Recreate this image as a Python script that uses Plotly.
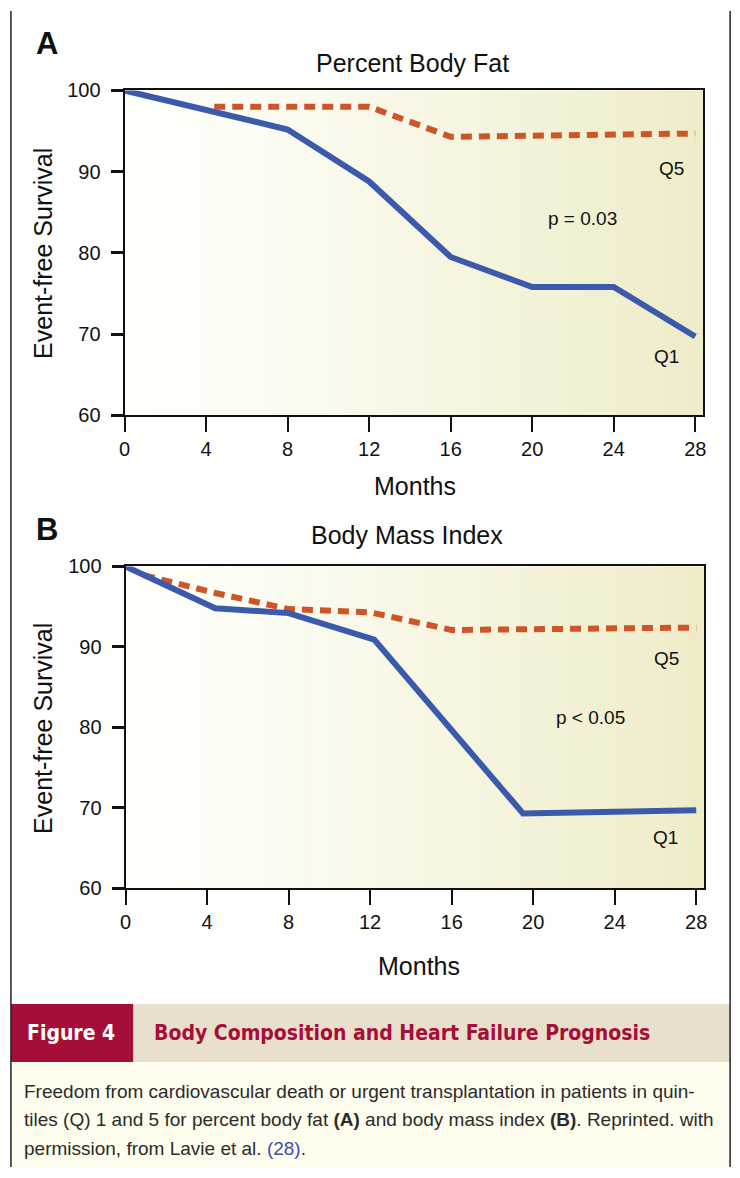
import plotly.graph_objects as go

# ---------------- data ----------------
months_ticks = [0, 4, 8, 12, 16, 20, 24, 28]
y_ticks = [60, 70, 80, 90, 100]

a_q1_x = [0, 8, 12, 16, 20, 24, 28]
a_q1_y = [100, 95.2, 88.8, 79.5, 75.8, 75.8, 69.7]
a_q5_x = [4.4, 12, 16, 28]
a_q5_y = [98.0, 98.0, 94.3, 94.7]

b_q1_x = [0, 4.4, 8, 12.2, 19.5, 28]
b_q1_y = [100, 94.8, 94.2, 90.9, 69.3, 69.7]
b_q5_x = [0.9, 4.4, 8, 12, 16, 28]
b_q5_y = [98.9, 96.7, 94.7, 94.3, 92.1, 92.4]

W, H = 740, 1178
BLUE = "#3b5aab"
ORANGE = "#cf5428"
FONT = "Liberation Sans, Arial, Helvetica, sans-serif"
NARROW = "DejaVu Sans Condensed, Liberation Sans Narrow, sans-serif"


def px(x):
    return x / W


def py(y):
    return 1 - y / H


fig = go.Figure()

# traces
fig.add_trace(go.Scatter(x=a_q5_x, y=a_q5_y, mode="lines", xaxis="x", yaxis="y",
                         line=dict(color=ORANGE, width=6, dash="11px,7px"), showlegend=False))
fig.add_trace(go.Scatter(x=a_q1_x, y=a_q1_y, mode="lines", xaxis="x", yaxis="y",
                         line=dict(color=BLUE, width=6), showlegend=False))
fig.add_trace(go.Scatter(x=b_q5_x, y=b_q5_y, mode="lines", xaxis="x2", yaxis="y2",
                         line=dict(color=ORANGE, width=6, dash="11px,7px"), showlegend=False))
fig.add_trace(go.Scatter(x=b_q1_x, y=b_q1_y, mode="lines", xaxis="x2", yaxis="y2",
                         line=dict(color=BLUE, width=6), showlegend=False))

common_x = dict(range=[0, 28.4], tickvals=months_ticks, ticks="outside", ticklen=15, tickwidth=2,
                tickcolor="#111", showline=True, linewidth=2, linecolor="#111", mirror=True,
                showgrid=False, zeroline=False, tickfont=dict(family=FONT, size=20, color="#111"),
                fixedrange=True)
common_y = dict(range=[60, 100], tickvals=y_ticks, ticks="outside", ticklen=12, tickwidth=2.5,
                tickcolor="#111", showline=True, linewidth=2, linecolor="#111", mirror=True,
                showgrid=False, zeroline=False, tickfont=dict(family=FONT, size=20, color="#111"),
                ticklabelstandoff=6, fixedrange=True)

fig.update_layout(
    width=W, height=H, margin=dict(l=0, r=0, t=0, b=0),
    paper_bgcolor="white", plot_bgcolor="rgba(0,0,0,0)",
    xaxis=dict(domain=[px(120), px(706)], anchor="y", **common_x),
    yaxis=dict(domain=[py(412), py(81)], anchor="x", **common_y),
    xaxis2=dict(domain=[px(121), px(707)], anchor="y2", **common_x),
    yaxis2=dict(domain=[py(894), py(566)], anchor="x2", **common_y),
)

shapes = []
# gradient backgrounds of the plot areas
N = 60
c0 = (255, 255, 252)
c1 = (238, 236, 199)
for ax in [("x", "y"), ("x2", "y2")]:
    for i in range(N):
        t = (i + 0.5) / N
        f = t ** 1.2
        col = "rgb(%d,%d,%d)" % tuple(round(c0[k] + (c1[k] - c0[k]) * f) for k in range(3))
        shapes.append(dict(type="rect", xref=ax[0] + " domain", yref=ax[1] + " domain",
                           x0=i / N, x1=(i + 1) / N + 0.002, y0=0, y1=1,
                           fillcolor=col, line=dict(width=0), layer="below"))

# caption blocks
shapes.append(dict(type="rect", xref="paper", yref="paper", x0=px(5), x1=px(129),
                   y0=py(1071), y1=py(1012), fillcolor="#a50e38", line=dict(width=0)))
shapes.append(dict(type="rect", xref="paper", yref="paper", x0=px(129), x1=px(733),
                   y0=py(1071), y1=py(1012), fillcolor="#e8e0cc", line=dict(width=0)))
shapes.append(dict(type="rect", xref="paper", yref="paper", x0=px(5), x1=px(733),
                   y0=0, y1=py(1071), fillcolor="#fffdee", line=dict(width=0)))
# outer border lines
for xx in [5, 733]:
    shapes.append(dict(type="line", xref="paper", yref="paper", x0=px(xx), x1=px(xx),
                       y0=0, y1=1, line=dict(color="#222", width=1.5)))
fig.update_layout(shapes=shapes)

ann = []


def ptext(text, x, y, size, bold=False, color="#111", xanchor="center", family=FONT, angle=0):
    ann.append(dict(text=("<b>%s</b>" % text) if bold else text, x=px(x), y=py(y), xref="paper",
                    yref="paper", showarrow=False, xanchor=xanchor, yanchor="middle",
                    textangle=angle, font=dict(family=family, size=size, color=color)))


# panel A
ptext("A", 42, 33, 31, bold=True)
ptext("Percent Body Fat", 412, 53, 25)
ptext("Months", 414, 484, 25)
ptext("Event-free Survival", 38, 247, 25, angle=-90)
# panel B
ptext("B", 42, 528, 31, bold=True)
ptext("Body Mass Index", 406, 534, 25)
ptext("Months", 418, 973, 25)
ptext("Event-free Survival", 38, 731, 25, angle=-90)


def dtext(text, x, y, xr, yr):
    ann.append(dict(text=text, x=x, y=y, xref=xr, yref=yr, showarrow=False,
                    xanchor="center", yanchor="middle", font=dict(family=FONT, size=19, color="#111")))


dtext("Q5", 26.85, 90.4, "x", "y")
dtext("p = 0.03", 22.45, 84.2, "x", "y")
dtext("Q1", 26.6, 67.3, "x", "y")
dtext("Q5", 26.55, 88.5, "x2", "y2")
dtext("p &lt; 0.05", 22.8, 81.2, "x2", "y2")
dtext("Q1", 26.5, 66.3, "x2", "y2")

# caption
ptext("Figure 4", 66, 1041, 21, bold=True, color="white", family=NARROW)
ptext("Body Composition and Heart Failure Prognosis", 148, 1041, 21, bold=True,
      color="#a50e38", xanchor="left", family=NARROW)
BODY = "#2b2b2b"
lines = [
    "Freedom from cardiovascular death or urgent transplantation in patients in quin-",
    "tiles (Q) 1 and 5 for percent body fat <b>(A)</b> and body mass index <b>(B)</b>. Reprinted. with",
    "permission, from Lavie et al. <span style='color:#3a4fa6'>(28)</span>.",
]
for i, ln in enumerate(lines):
    ptext(ln, 16, 1101 + i * 29, 19, color=BODY, xanchor="left", family=FONT)

fig.update_layout(annotations=ann)
fig.write_html("out.html", config={"displayModeBar": False},
               post_script="document.body.style.margin='0';document.body.style.overflow='hidden';")
